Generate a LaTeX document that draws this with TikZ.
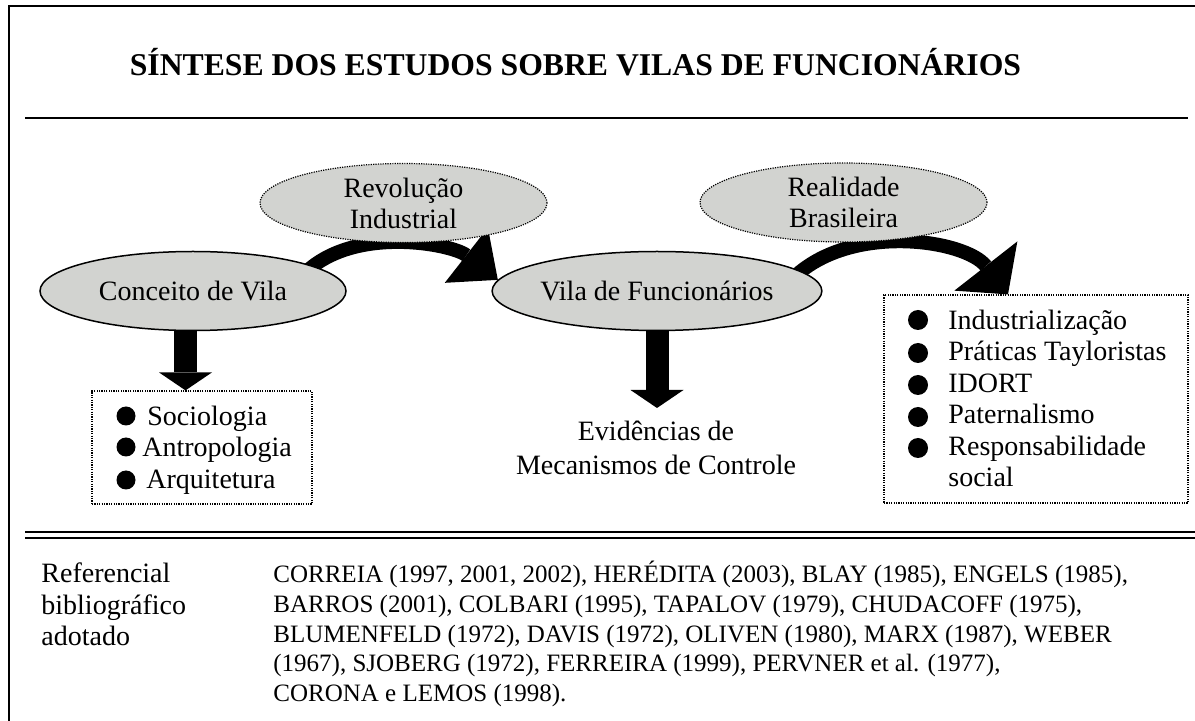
\documentclass[tikz,border=0pt]{standalone}
\usepackage{fontspec}
\setmainfont{Liberation Serif}
\usetikzlibrary{shapes.geometric,arrows.meta}
\definecolor{ovalgray}{RGB}{210,211,208}
\pgfdeclarelayer{bg}
\pgfsetlayers{bg,main}

\begin{document}
\begin{tikzpicture}[x=0.5pt,y=0.5pt,
        oval/.style={ellipse, draw, line width=0.75pt, fill=ovalgray, inner sep=0pt, align=center, font=\fontsize{14}{15.5}\selectfont},
        dotoval/.style={oval, line width=0.6pt, dash pattern=on 0.6pt off 0.6pt},
        listbox/.style={draw, line width=0.6pt, dash pattern=on 0.6pt off 0.6pt, inner sep=0pt},
        bulletdot/.style={circle, fill, inner sep=0pt, minimum size=9.5pt},
        itemtext/.style={anchor=base west, inner sep=0pt, align=left, font=\fontsize{14}{15.7}\selectfont},
        blockdown/.style={line width=11.5pt, -{Triangle[width=26.5pt,length=9pt,line width=0pt]}},
        bendarrow/.style={line width=7pt, shorten <=-6pt}]
        \useasboundingbox (0,0) rectangle (1195,-721);
        % frame and rules
        \draw[line width=1pt] (9,-721) -- (9,-6) -- (1195,-6);
        \draw[line width=1pt] (25,-118) -- (1188,-118);
        \draw[line width=1pt] (25,-532.5) -- (1195,-532.5);
        \draw[line width=1pt] (25,-538.5) -- (1195,-538.5);
        \node (title) [anchor=base, inner sep=0pt, font=\fontsize{15.85}{18}\selectfont\bfseries] at (575.5,-75.5) {SÍNTESE DOS ESTUDOS SOBRE VILAS DE FUNCIONÁRIOS};
        % ovals
        \node (conc) [oval, minimum width=153pt, minimum height=39.5pt] at (193,-291) {Conceito de Vila};
        \node (vila) [oval, minimum width=160.5pt, minimum height=39.5pt] at (657,-291) {Vila de Funcionários};
        \node (rev) [dotoval, minimum width=143.5pt, minimum height=39.5pt] at (403.5,-203) {Revolução\\Industrial};
        \node (real) [dotoval, minimum width=143.5pt, minimum height=39.5pt] at (843.5,-202.5) {Realidade\\Brasileira};
        % boxes and lists
        \node (lbox) [listbox, minimum width=110pt, minimum height=56.5pt] at (202,-447.5) {};
        \node (rbox) [listbox, minimum width=152pt, minimum height=104pt] at (1036,-399) {};
        \node (b1) [bulletdot] at (126,-416) {};
        \node (b2) [bulletdot] at (126,-447) {};
        \node (b3) [bulletdot] at (126,-480) {};
        \node (soc) [itemtext] at (147,-425.5) {Sociologia};
        \node (ant) [itemtext] at (142,-456.5) {Antropologia};
        \node (arq) [itemtext] at (146,-489) {Arquitetura};
        \node (b4) [bulletdot, minimum size=10pt] at (918,-320) {};
        \node (b5) [bulletdot, minimum size=10pt] at (918,-353) {};
        \node (b6) [bulletdot, minimum size=10pt] at (918,-385) {};
        \node (b7) [bulletdot, minimum size=10pt] at (918,-417) {};
        \node (b8) [bulletdot, minimum size=10pt] at (918,-448) {};
        \node (ind) [itemtext] at (948,-329.5) {Industrialização};
        \node (pra) [itemtext] at (948,-361) {Práticas Tayloristas};
        \node (ido) [itemtext] at (948,-392.5) {IDORT};
        \node (pat) [itemtext] at (948,-423.5) {Paternalismo};
        \node (res) [itemtext] at (948,-486.5) {Responsabilidade\\social};
        \node (evid) [inner sep=0pt, align=center, font=\fontsize{14}{17}\selectfont] at (656,-448) {Evidências de\\Mecanismos de Controle};
        \coordinate (vtip) at (657,-408);
        % references
        \node (refl) [anchor=base west, inner sep=0pt, align=left, font=\fontsize{14}{15.75}\selectfont] at (41,-646) {Referencial\\bibliográfico\\adotado};
        \node (refs) [anchor=base west, inner sep=0pt, align=left, font=\fontsize{12.5}{14.75}\selectfont] at (273,-701) {CORREIA (1997, 2001, 2002), HERÉDITA (2003), BLAY (1985), ENGELS (1985),\\BARROS (2001), COLBARI (1995), TAPALOV (1979), CHUDACOFF (1975),\\BLUMENFELD (1972), DAVIS (1972), OLIVEN (1980), MARX (1987), WEBER\\(1967), SJOBERG (1972), FERREIRA (1999), PERVNER et al. (1977),\\CORONA e LEMOS (1998).};
        \begin{pgfonlayer}{bg}
                \draw[blockdown] ([xshift=-3.75pt]conc.south) -- ([xshift=-8.25pt]lbox.north);
                \draw[blockdown] (vila.south) -- (vtip);
                \draw[bendarrow, -{Triangle[width=35pt,length=20pt,line width=0pt]}] (conc.12) to[out=45, in=142, looseness=0.8] (vila.176);
                \draw[bendarrow, -{Triangle[width=40pt,length=18pt,line width=0pt]}] (vila.8) to[out=45, in=128, looseness=0.85] ([xshift=-14pt]rbox.north);
        \end{pgfonlayer}
\end{tikzpicture}
\end{document}
